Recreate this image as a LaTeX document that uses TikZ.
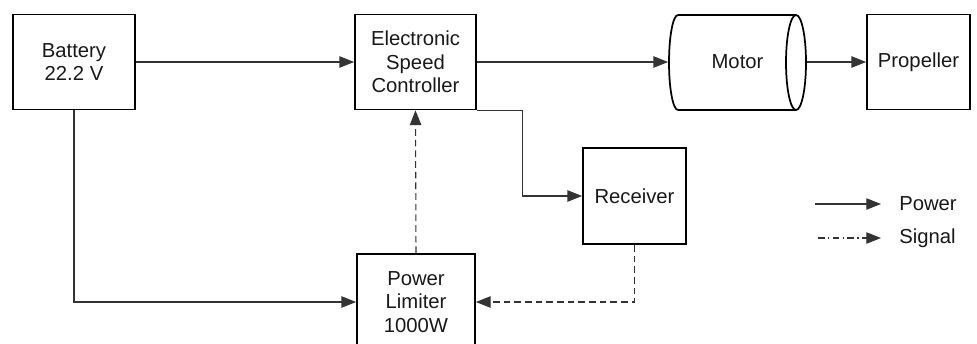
\documentclass[tikz,border=0pt]{standalone}
\usepackage{fontspec}
\setmainfont{Liberation Sans}
\usetikzlibrary{arrows.meta}
\begin{document}
\begin{tikzpicture}[x=0.75pt,y=-0.75pt,
  blk/.style={draw, line width=1.3pt, align=center, inner sep=0pt,
    font=\fontsize{15.2pt}{17.5pt}\selectfont, text=black!90},
  lbl/.style={font=\fontsize{15.2pt}{17.5pt}\selectfont, text=black!90, inner sep=0pt, anchor=west},
  pw/.style={line width=0.8pt, draw=black!80, -{Triangle[length=11pt,width=8.5pt]}},
  sg/.style={pw, dash pattern=on 5pt off 3pt}]
\clip (0,0) rectangle (977,343);
\useasboundingbox (0,0) rectangle (977,343);
\node[blk, minimum width=91.5pt, minimum height=71.25pt] (battery) at (74,62) {Battery\\22.2 V};
\node[blk, minimum width=90.75pt, minimum height=71.25pt] (esc) at (415.5,62) {Electronic\\Speed\\Controller};
\node[blk, draw=none, minimum width=102.75pt, minimum height=71.25pt] (motor) at (737.5,62) {Motor};
\node[blk, minimum width=77.25pt, minimum height=71.25pt] (prop) at (918.5,62) {Propeller};
\node[blk, minimum width=77.25pt, minimum height=72pt] (receiver) at (634.5,196) {Receiver};
\node[blk, minimum width=88.5pt, minimum height=72pt] (limiter) at (416,302) {Power\\Limiter\\1000W};
% motor cylinder
\draw[line width=1.3pt] (678,15) -- (796,15) (678,110) -- (796,110);
\draw[line width=1.3pt] (678,15) arc[start angle=-90, end angle=-270, x radius=9, y radius=47.5];
\draw[line width=1.3pt] (796,62.5) ellipse[x radius=10, y radius=47.5];
% connectors
\draw[pw] (battery.east) -- (esc.west);
\draw[pw] (esc.east) -- (motor.west);
\draw[pw] (motor.east) -- (prop.west);
\draw[pw] (esc.south east) -- ++(46,0) |- (receiver.west);
\draw[pw] (battery.south) |- (limiter.west);
\draw[sg] (limiter.north) -- (esc.south);
\draw[sg] (receiver.south) |- (limiter.east);
% legend
\coordinate (p1) at (815,204); \coordinate (p2) at (881,204);
\coordinate (s1) at (818,238); \coordinate (s2) at (881,238);
\draw[pw] (p1) -- (p2);
\draw[pw, dash pattern=on 5pt off 2.5pt on 1pt off 2.5pt] (s1) -- (s2);
\node[lbl] (lp) at (899,204) {Power};
\node[lbl] (ls) at (899,238) {Signal};
\end{tikzpicture}
\end{document}
